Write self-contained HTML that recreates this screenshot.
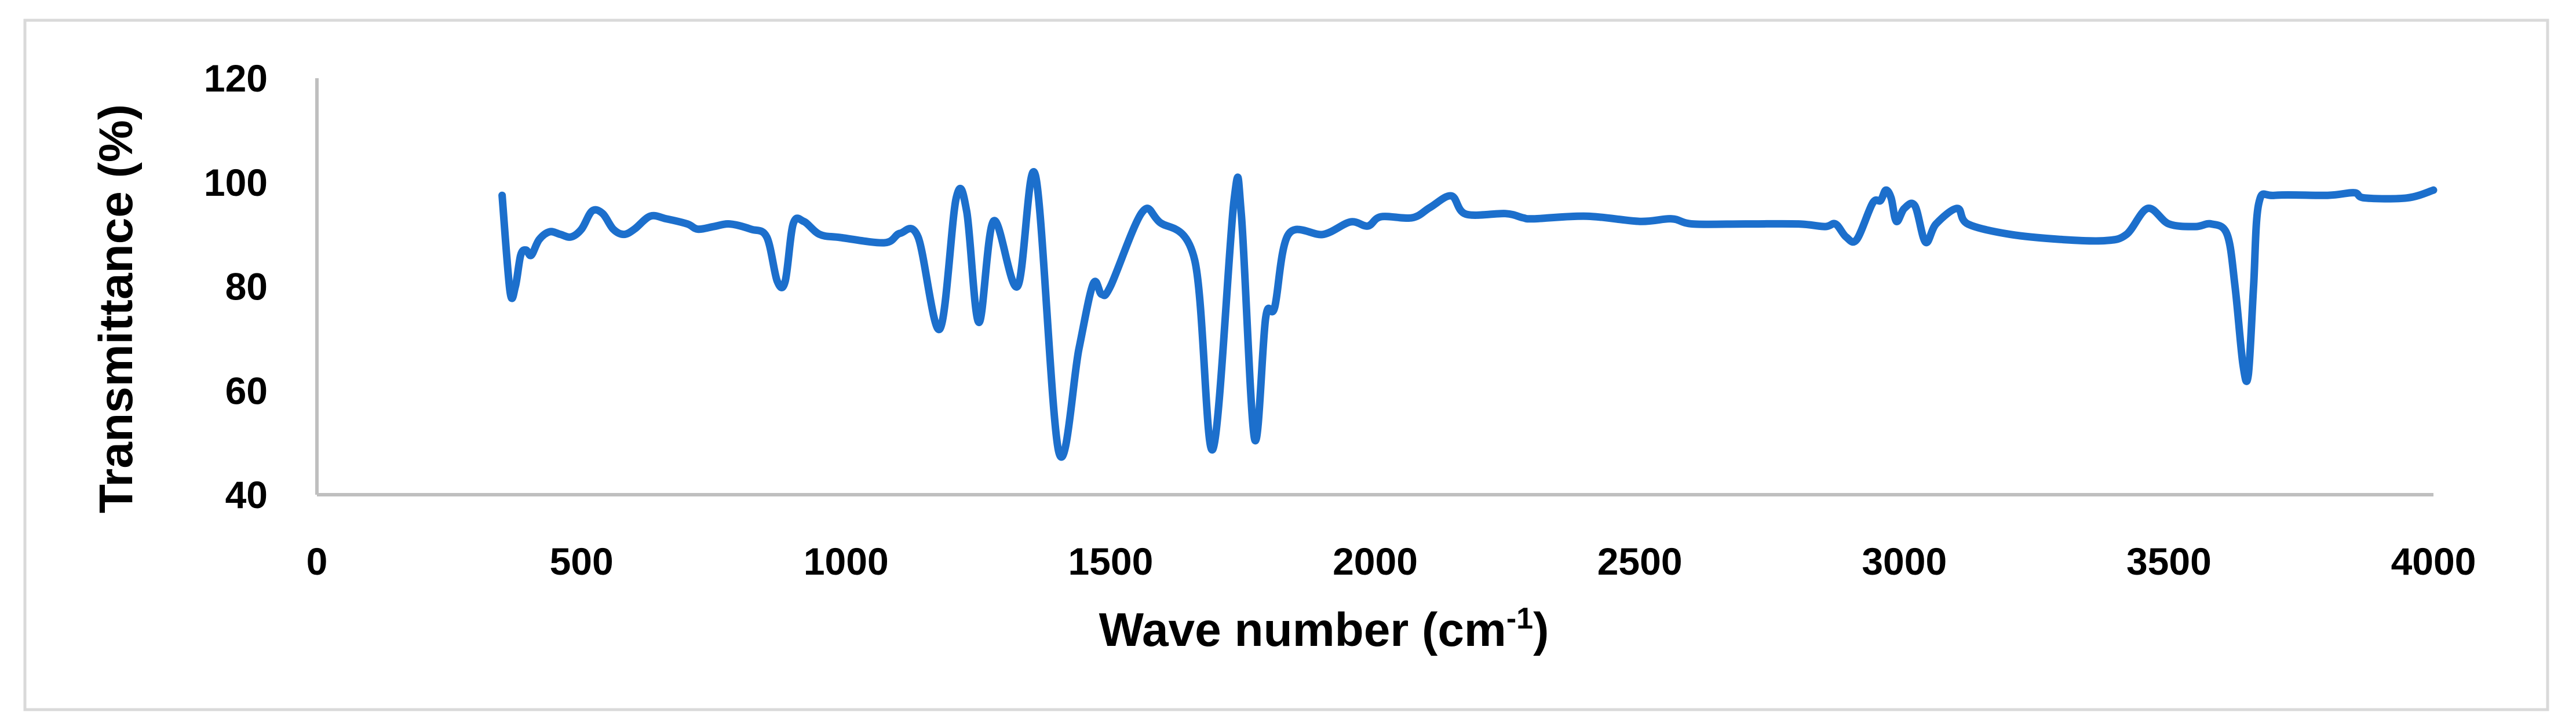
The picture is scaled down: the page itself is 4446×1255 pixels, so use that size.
<!DOCTYPE html>
<html><head><meta charset="utf-8"><style>
html,body{margin:0;padding:0;background:#fff;}
svg{display:block;font-family:"Liberation Sans","DejaVu Sans",sans-serif;}
</style></head><body>
<svg id="chart" width="4446" height="1255" viewBox="0 0 4446 1255" xmlns="http://www.w3.org/2000/svg">
<rect x="43" y="35" width="4354" height="1190" fill="#fff" stroke="#d9d9d9" stroke-width="5"/>
<g id="axes"></g>
<text transform="translate(228,533) rotate(-90)" text-anchor="middle" font-size="82" font-weight="bold" fill="#000">Transmittance (%)</text>
<text x="2285" y="1115" text-anchor="middle" font-size="82" font-weight="bold" fill="#000">Wave number (cm<tspan font-size="52" dy="-30">-1</tspan><tspan dy="30">)</tspan></text>
</svg>
<script>
const xTicks = [0,500,1000,1500,2000,2500,3000,3500,4000];
const yTicks = [40,60,80,100,120];
const wavenumbers = [350,365,375,385,395,405,420,440,460,480,500,520,540,560,580,600,630,660,700,720,750,780,820,850,870,885,900,920,950,989,1073,1102,1136,1177,1208,1228,1251,1279,1324,1358,1402,1440,1467,1483,1500,1559,1592,1659,1693,1733,1747,1772,1793,1810,1836,1902,1953,1986,2011,2070,2104,2144,2171,2246,2279,2300,2400,2500,2560,2600,2700,2800,2850,2870,2890,2910,2940,2955,2965,2975,2985,3000,3020,3040,3060,3100,3120,3200,3300,3380,3420,3460,3500,3550,3580,3610,3625,3640,3650,3660,3670,3700,3800,3850,3870,3950,4000];
const transmittance = [97.5,79,80,86,87,86,89,90.5,90,89.5,91,94.5,94,91,90,91,93.5,93,92,91,91.5,92,91,89.5,81,81,92,92.5,90,89.4,88.4,90.2,89.5,71.8,96.9,94.4,73.1,92.6,80,101.3,48.2,68,80.5,78.5,80.1,94.2,92.4,85,48.7,96.4,93.9,50.7,74,76,90,90,92.4,91.6,93.4,93.2,95.2,97.4,93.9,94,93.2,93,93.5,92.5,93,92,92,92,91.5,92,89.5,89,96,96.5,98.5,97,92.5,95,95.5,88.5,92,95,92,90,89,88.8,90,95,92,91.5,92,90,80,65,63,80,96,97.5,97.5,98,97,97,98.5];

const NS="http://www.w3.org/2000/svg";
const svg=document.getElementById('chart');
const g=document.getElementById('axes');
const X0=547,X1=4200,Y0=854,Y1=135;
const xs=v=>X0+(v-0)/(4000-0)*(X1-X0);
const ys=v=>Y0-(v-40)/(120-40)*(Y0-Y1);
function mk(tag,attrs){const e=document.createElementNS(NS,tag);for(const k in attrs)e.setAttribute(k,attrs[k]);return e;}

const ya=mk('line',{x1:X0,y1:Y1,x2:X0,y2:Y0,stroke:'#bfbfbf','stroke-width':6});


g.appendChild(ya);
const xa=mk('line',{x1:X0,y1:Y0,x2:X1,y2:Y0,stroke:'#bfbfbf','stroke-width':6});


g.appendChild(xa);

yTicks.forEach(t=>{
  const e=mk('text',{x:462,y:ys(t)+23,'text-anchor':'end','font-size':66,'font-weight':'bold',fill:'#000'});
  e.textContent=t;
  
  
  g.appendChild(e);
});
xTicks.forEach(t=>{
  const e=mk('text',{x:xs(t),y:992,'text-anchor':'middle','font-size':66,'font-weight':'bold',fill:'#000'});
  e.textContent=t;
  
  
  g.appendChild(e);
});

const pts=wavenumbers.map((w,i)=>[xs(w),ys(transmittance[i])]);
let d='M'+pts[0][0].toFixed(1)+','+pts[0][1].toFixed(1);
for(let i=0;i<pts.length-1;i++){
  const p0=pts[Math.max(0,i-1)],p1=pts[i],p2=pts[i+1],p3=pts[Math.min(pts.length-1,i+2)];
  const k=1/6;
  const c1=[p1[0]+(p2[0]-p0[0])*k,p1[1]+(p2[1]-p0[1])*k];
  const c2=[p2[0]-(p3[0]-p1[0])*k,p2[1]-(p3[1]-p1[1])*k];
  d+=' C'+c1[0].toFixed(1)+','+c1[1].toFixed(1)+' '+c2[0].toFixed(1)+','+c2[1].toFixed(1)+' '+p2[0].toFixed(1)+','+p2[1].toFixed(1);
}
const p=mk('path',{d:d,fill:'none',stroke:'#1c6fcc','stroke-width':13,'stroke-linejoin':'round','stroke-linecap':'round'});


svg.appendChild(p);
</script>
</body></html>
